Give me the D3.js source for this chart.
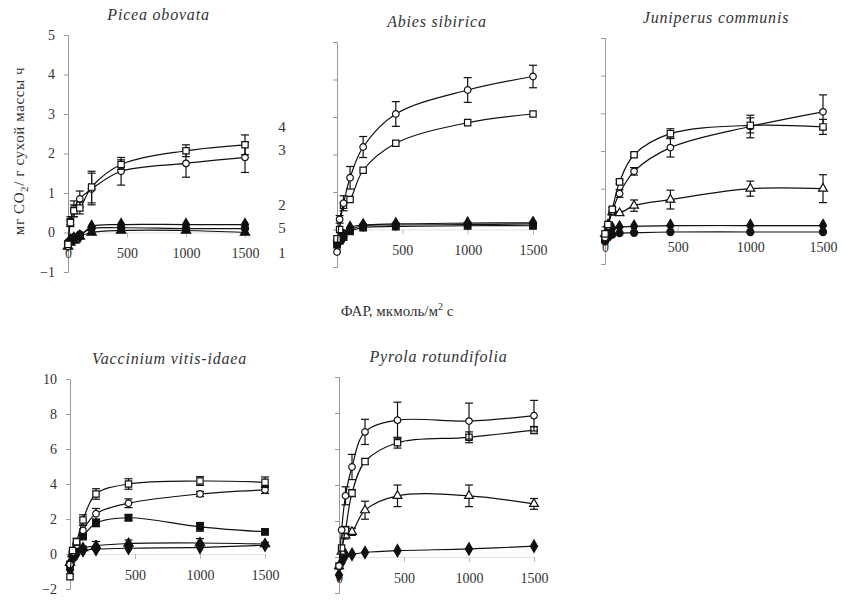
<!DOCTYPE html>
<html>
<head>
<meta charset="utf-8">
<script src="https://cdn.jsdelivr.net/npm/d3@7"></script>
<style>
  body { margin: 0; background: #fff; }
  svg { display: block; font-family: "Liberation Serif", "Times New Roman", serif; }
  .title { font-family: "Liberation Serif", serif; font-style: italic; font-weight: normal; font-size: 16px; letter-spacing: 0.8px; fill: #333; }
</style>
</head>
<body>
<svg id="chart" width="848" height="601"></svg>
<script>
const par = [0, 20, 50, 100, 200, 450, 1000, 1500];
const xTicks = [0, 500, 1000, 1500];
const yTicksTop = [-1, 0, 1, 2, 3, 4, 5];
const yTicksBottom = [-2, 0, 2, 4, 6, 8, 10];
const seriesNames = ["4", "3", "2", "5", "1"];

// Picea obovata
const piceaSquare = [-0.3, 0.25, 0.55, 0.62, 1.15, 1.72, 2.07, 2.22];
const piceaSquareErr = [0, 0.1, 0.15, 0.15, 0.4, 0.12, 0.15, 0.25];
const piceaCircle = [-0.35, 0.3, 0.6, 0.85, 1.1, 1.55, 1.75, 1.9];
const piceaCircleErr = [0, 0.1, 0.2, 0.2, 0.4, 0.35, 0.35, 0.38];
const piceaDiamond = [-0.3, -0.2, -0.15, -0.1, 0.15, 0.2, 0.2, 0.2];
const piceaDot = [-0.25, -0.2, -0.12, -0.05, 0.1, 0.12, 0.1, 0.1];
const piceaTri = [-0.35, -0.25, -0.2, -0.1, 0.0, 0.05, 0.05, 0.0];

// Abies sibirica
const abiesCircle = [-0.6, 0.27, 0.7, 1.38, 2.2, 3.08, 3.72, 4.08];
const abiesCircleErr = [0, 0.1, 0.2, 0.3, 0.28, 0.33, 0.33, 0.3];
const abiesSquare = [-0.25, 0.0, 0.65, 0.8, 1.58, 2.3, 2.85, 3.08];
const abiesDiamond = [-0.35, -0.3, -0.2, 0.05, 0.12, 0.15, 0.17, 0.18];
const abiesDot = [-0.3, -0.25, -0.1, 0.0, 0.1, 0.12, 0.13, 0.15];
const abiesTri = [-0.4, -0.3, -0.2, -0.05, 0.05, 0.08, 0.1, 0.1];

// Juniperus communis
const juniperusCircle = [-0.3, 0.0, 0.4, 0.87, 1.46, 2.09, 2.65, 3.04];
const juniperusCircleErr = [0, 0, 0.1, 0.1, 0.1, 0.25, 0.3, 0.45];
const juniperusSquare = [-0.2, 0.05, 0.45, 1.18, 1.9, 2.46, 2.68, 2.64];
const juniperusSquareErr = [0, 0, 0, 0.05, 0.05, 0.13, 0.2, 0.2];
const juniperusTri = [-0.2, 0.05, 0.38, 0.35, 0.55, 0.71, 1.0, 1.0];
const juniperusTriErr = [0, 0, 0, 0.05, 0.15, 0.25, 0.2, 0.37];
const juniperusDiamond = [-0.3, -0.15, -0.05, -0.02, 0.0, 0.02, 0.02, 0.02];
const juniperusDot = [-0.4, -0.3, -0.22, -0.18, -0.17, -0.15, -0.15, -0.15];

// Vaccinium vitis-idaea
const vacciniumSquare = [-1.3, 0.2, 0.7, 1.94, 3.43, 4.0, 4.17, 4.1];
const vacciniumSquareErr = [0, 0, 0.2, 0.3, 0.3, 0.3, 0.25, 0.3];
const vacciniumCircle = [-0.6, 0.1, 0.5, 1.35, 2.3, 2.9, 3.43, 3.66];
const vacciniumCircleErr = [0, 0, 0.1, 0.3, 0.3, 0.25, 0.15, 0.2];
const vacciniumFilledSq = [-0.6, 0.0, 0.5, 1.0, 1.76, 2.07, 1.55, 1.26];
const vacciniumFilledSqErr = [0, 0, 0, 0.1, 0.2, 0.15, 0.25, 0.1];
const vacciniumTri = [-0.5, 0.0, 0.3, 0.35, 0.47, 0.6, 0.63, 0.57];
const vacciniumTriErr = [0, 0, 0, 0.1, 0.25, 0.2, 0.25, 0.1];
const vacciniumDiamond = [-0.9, -0.3, 0.0, 0.2, 0.27, 0.33, 0.38, 0.5];

// Pyrola rotundifolia
const pyrolaCircle = [-0.5, 1.5, 3.4, 5.0, 6.95, 7.6, 7.55, 7.85];
const pyrolaCircleErr = [0, 0, 0.5, 0.7, 0.7, 1.0, 1.0, 0.85];
const pyrolaSquare = [-0.5, 0.5, 1.5, 3.55, 5.3, 6.35, 6.65, 7.05];
const pyrolaSquareErr = [0, 0, 0.2, 0.2, 0.15, 0.3, 0.3, 0.2];
const pyrolaTri = [-0.5, 0.3, 1.2, 1.4, 2.6, 3.4, 3.4, 2.95];
const pyrolaTriErr = [0, 0, 0.2, 0.2, 0.5, 0.6, 0.6, 0.3];
const pyrolaDiamond = [-1.0, -0.3, 0.1, 0.15, 0.25, 0.35, 0.45, 0.6];

const panels = [
  { title: "Picea obovata", x0: 68, x1: 245, yTop: 35, yBot: 272, yTicks: yTicksTop, showY: true,
    series: [
      { v: piceaDiamond, m: "diamondF" }, { v: piceaDot, m: "circleF" }, { v: piceaTri, m: "triangleF" },
      { v: piceaCircle, e: piceaCircleErr, m: "circle" }, { v: piceaSquare, e: piceaSquareErr, m: "square" }
    ] },
  { title: "Abies sibirica", x0: 337, x1: 533, yTop: 42, yBot: 267, yTicks: yTicksTop, showY: false,
    series: [
      { v: abiesDiamond, m: "diamondF" }, { v: abiesDot, m: "circleF" }, { v: abiesTri, m: "squareF" },
      { v: abiesSquare, m: "square" }, { v: abiesCircle, e: abiesCircleErr, m: "circle" }
    ] },
  { title: "Juniperus communis", x0: 605, x1: 823, yTop: 38, yBot: 264, yTicks: yTicksTop, showY: false,
    series: [
      { v: juniperusDiamond, m: "diamondF" }, { v: juniperusDot, m: "circleF" },
      { v: juniperusTri, e: juniperusTriErr, m: "triangle" },
      { v: juniperusCircle, e: juniperusCircleErr, m: "circle" },
      { v: juniperusSquare, e: juniperusSquareErr, m: "square" }
    ] },
  { title: "Vaccinium vitis-idaea", x0: 70, x1: 265, yTop: 379, yBot: 589, yTicks: yTicksBottom, showY: true,
    series: [
      { v: vacciniumDiamond, m: "diamondF" }, { v: vacciniumTri, e: vacciniumTriErr, m: "triangleF" },
      { v: vacciniumFilledSq, e: vacciniumFilledSqErr, m: "squareF" },
      { v: vacciniumCircle, e: vacciniumCircleErr, m: "circle" },
      { v: vacciniumSquare, e: vacciniumSquareErr, m: "square" }
    ] },
  { title: "Pyrola rotundifolia", x0: 339, x1: 534, yTop: 377, yBot: 593, yTicks: yTicksBottom, showY: false,
    series: [
      { v: pyrolaDiamond, m: "diamondF" },
      { v: pyrolaTri, e: pyrolaTriErr, m: "triangle" },
      { v: pyrolaSquare, e: pyrolaSquareErr, m: "square" },
      { v: pyrolaCircle, e: pyrolaCircleErr, m: "circle" }
    ] }
];

const svg = d3.select("#chart");

const symbols = {
  circle: [d3.symbolCircle, 34, false],
  circleF: [d3.symbolCircle, 40, true],
  square: [d3.symbolSquare, 40, false],
  squareF: [d3.symbolSquare, 44, true],
  triangle: [d3.symbolTriangle, 34, false],
  triangleF: [d3.symbolTriangle, 38, true],
  diamondF: [d3.symbolDiamond, 44, true]
};

panels.forEach((p) => {
  const yDom = d3.extent(p.yTicks);
  const x = d3.scaleLinear().domain([0, 1500]).range([p.x0, p.x1]);
  const y = d3.scaleLinear().domain(yDom).range([p.yBot, p.yTop]);
  const g = svg.append("g");

  // y axis
  const yAxis = d3.axisLeft(y).tickValues(p.yTicks).tickSize(4).tickPadding(9)
    .tickFormat(p.showY ? d3.format("d") : () => "");
  const ya = g.append("g").attr("transform", `translate(${p.x0},0)`).call(yAxis);
  ya.select(".domain").attr("stroke", "#999");
  ya.selectAll(".tick line").attr("stroke", "#999");
  ya.selectAll(".tick text").style("font-family", "Liberation Serif").style("font-size", "14px").attr("fill", "#333");

  // x axis on the zero line
  const xAxis = d3.axisBottom(x).tickValues(xTicks).tickSize(5).tickPadding(11).tickFormat(d3.format("d"));
  const xa = g.append("g").attr("transform", `translate(0,${y(0)})`).call(xAxis);
  xa.select(".domain").attr("stroke", "#e4e4e4");
  xa.selectAll(".tick line").attr("stroke", "#bbb");
  xa.selectAll(".tick text").style("font-family", "Liberation Serif").style("font-size", "14px").attr("fill", "#333");

  g.append("text").attr("class", "title")
    .attr("x", (p.x0 + p.x1) / 2 + 2).attr("y", p.yTop - 15)
    .attr("text-anchor", "middle").text(p.title);

  const line = d3.line().x((d) => x(d[0])).y((d) => y(d[1])).curve(d3.curveCatmullRom.alpha(0.5));

  p.series.forEach((s) => {
    const pts = par.map((px, i) => [px, s.v[i], s.e ? s.e[i] : 0]);
    g.append("path").datum(pts).attr("d", line)
      .attr("fill", "none").attr("stroke", "#111").attr("stroke-width", 1.2);

    const eb = g.append("g").selectAll("g").data(pts.filter((d) => d[2] > 0)).join("g")
      .attr("stroke", "#111").attr("stroke-width", 1.2);
    eb.append("line").attr("x1", (d) => x(d[0])).attr("x2", (d) => x(d[0]))
      .attr("y1", (d) => y(d[1] - d[2])).attr("y2", (d) => y(d[1] + d[2]));
    eb.append("line").attr("x1", (d) => x(d[0]) - 4).attr("x2", (d) => x(d[0]) + 4)
      .attr("y1", (d) => y(d[1] - d[2])).attr("y2", (d) => y(d[1] - d[2]));
    eb.append("line").attr("x1", (d) => x(d[0]) - 4).attr("x2", (d) => x(d[0]) + 4)
      .attr("y1", (d) => y(d[1] + d[2])).attr("y2", (d) => y(d[1] + d[2]));

    const [type, size, filled] = symbols[s.m];
    g.append("g").selectAll("path").data(pts).join("path")
      .attr("transform", (d) => `translate(${x(d[0])},${y(d[1])})`)
      .attr("d", d3.symbol().type(type).size(size))
      .attr("fill", filled ? "#111" : "#fff")
      .attr("stroke", "#111").attr("stroke-width", 1.2);
  });
});

// series numbers beside the first panel
const labelY = [127, 150, 205, 228, 253];
svg.append("g").selectAll("text").data(seriesNames).join("text")
  .attr("x", 282).attr("y", (d, i) => labelY[i] + 5)
  .attr("text-anchor", "middle").style("font-size", "15px").attr("fill", "#333")
  .text((d) => d);

// y axis title
const yTitle = svg.append("text")
  .attr("transform", "translate(24,151) rotate(-90)")
  .attr("text-anchor", "middle").style("font-size", "15px").style("letter-spacing", "0.6px").attr("fill", "#333");
yTitle.append("tspan").text("мг CO");
yTitle.append("tspan").attr("dy", 4).style("font-size", "11px").text("2");
yTitle.append("tspan").attr("dy", -4).text("/ г сухой массы ч");

// x axis title
const xTitle = svg.append("text")
  .attr("x", 397).attr("y", 316)
  .attr("text-anchor", "middle").style("font-size", "15px").attr("fill", "#333");
xTitle.append("tspan").text("ФАР, мкмоль/м");
xTitle.append("tspan").attr("dy", -6).style("font-size", "10px").text("2");
xTitle.append("tspan").attr("dy", 6).text(" с");
</script>
</body>
</html>
